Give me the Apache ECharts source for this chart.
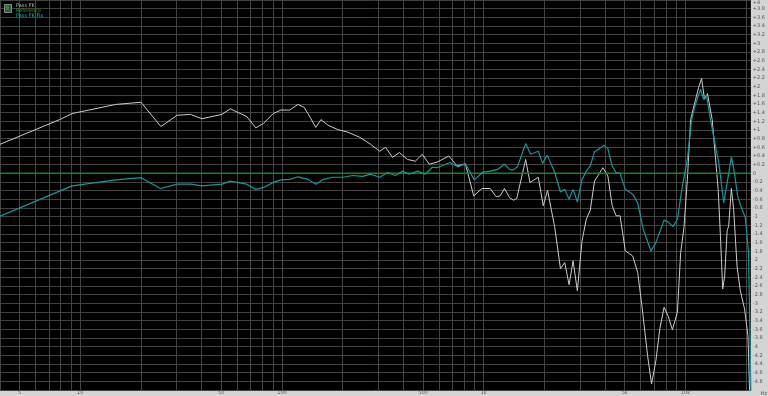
<!DOCTYPE html>
<html><head><meta charset="utf-8">
<script src="https://cdn.jsdelivr.net/npm/echarts@6/dist/echarts.min.js"></script>
<style>html,body{margin:0;padding:0;background:#d4d4d4;}#c{width:768px;height:396px;}</style>
</head><body><div id="c"></div>
<script>
const seriesNames = ['Pass FK', 'Reference', 'Pass FK Fix'];

const whiteHz = [4, 7.9, 9.12, 15.0, 20.0, 25.1, 30.2, 35.2, 40.1, 50.4, 55.4, 66.9, 74.1, 80.8, 90.5, 98.8, 109, 120, 129, 138, 147, 156, 169, 189, 212, 243, 275, 305, 326, 353, 382, 419, 458, 496, 537, 588, 672, 738, 811, 892, 980, 1077, 1152, 1206, 1268, 1342, 1404, 1458, 1614, 1695, 1864, 1973, 2072, 2250, 2401, 2521, 2650, 2773, 2912, 3071, 3224, 3374, 3542, 3897, 4124, 4330, 4531, 4741, 5035, 5478, 5797, 6087, 6492, 6792, 7133, 7463, 7836, 8200, 8620, 9122, 9471, 9831, 10220, 10610, 11230, 11620, 12020, 12430, 12860, 13570, 14530, 14910, 15300, 15650, 16090, 16380, 16890, 17340, 18020, 18710, 19640, 20410, 20950];
const whiteDb = [0.67, 1.24, 1.38, 1.59, 1.64, 1.08, 1.34, 1.36, 1.26, 1.36, 1.49, 1.31, 1.05, 1.15, 1.38, 1.46, 1.46, 1.59, 1.52, 1.29, 1.06, 1.24, 1.11, 1.01, 0.95, 0.83, 0.67, 0.51, 0.60, 0.37, 0.48, 0.32, 0.28, 0.44, 0.21, 0.26, 0.40, 0.17, 0.22, -0.52, -0.35, -0.35, -0.54, -0.52, -0.35, -0.56, -0.62, -0.58, 0.32, -0.21, -0.09, -0.75, -0.39, -1.25, -2.20, -2.06, -2.57, -2.02, -2.71, -1.56, -1.06, -0.85, -0.18, 0.13, -0.06, -0.74, -0.98, -0.98, -1.79, -1.91, -2.29, -3.06, -4.21, -4.86, -4.33, -3.59, -3.09, -3.29, -3.61, -3.20, -1.83, -1.25, -0.14, 1.24, 1.71, 1.98, 2.19, 1.71, 1.84, 1.24, -0.37, -1.45, -2.67, -2.37, -1.33, -1.21, -0.35, -0.83, -2.14, -2.71, -3.13, -3.75, -5.5];

const tealHz = [4, 7.9, 9.12, 15.0, 20.0, 25.0, 30.2, 35.2, 40.1, 50.4, 55.4, 66.9, 74.1, 80.8, 90.5, 98.8, 109, 120, 135, 147, 160, 179, 200, 224, 251, 275, 305, 334, 365, 395, 428, 469, 513, 556, 588, 679, 744, 811, 898, 991, 1077, 1171, 1268, 1342, 1404, 1469, 1614, 1708, 1864, 1957, 2064, 2250, 2401, 2521, 2650, 2773, 2912, 3071, 3224, 3374, 3542, 3750, 3941, 4124, 4330, 4531, 4741, 5035, 5478, 5797, 6177, 6740, 7133, 7836, 8200, 8680, 9122, 9656, 10220, 10730, 11100, 11490, 11880, 12290, 12720, 13310, 14090, 14630, 15480, 16200, 16890, 17480, 18140, 18920, 19800, 20550, 21190];
const tealDb = [-0.99, -0.41, -0.29, -0.15, -0.10, -0.35, -0.25, -0.25, -0.29, -0.25, -0.18, -0.25, -0.37, -0.33, -0.21, -0.15, -0.14, -0.08, -0.14, -0.25, -0.14, -0.09, -0.09, -0.05, -0.07, -0.02, -0.09, 0.02, -0.05, 0.05, -0.02, 0.05, -0.02, 0.14, 0.13, 0.25, 0.15, 0.22, -0.15, 0.03, 0.05, 0.09, 0.21, 0.09, 0.08, 0.15, 0.69, 0.44, 0.51, 0.23, 0.42, 0.02, -0.43, -0.37, -0.60, -0.37, -0.66, -0.14, 0.05, 0.17, 0.50, 0.57, 0.65, 0.57, 0.17, 0.02, 0.00, -0.37, -0.48, -0.68, -1.29, -1.79, -1.60, -1.08, -1.12, -1.23, -1.06, -0.29, 0.32, 1.24, 1.52, 1.75, 1.94, 1.71, 1.80, 1.24, 0.63, 0.25, -0.68, -0.14, 0.38, 0.02, -0.52, -0.79, -1.02, -1.83, -5.5];

const refHz = [4, 21100];
const refDb = [0, 0];

const gridHz = [4,5,6,7,8,9,10,20,30,40,50,60,70,80,90,100,200,300,400,500,600,700,800,900,1000,2000,3000,4000,5000,6000,7000,8000,9000,10000,20000];
const xTickHz = [5, 10, 50, 100, 500, 1000, 5000, 10000];
const xTickLabels = ['5', '10', '50', '100', '500', '1k', '5k', '10k'];

const zip = (a, b) => a.map((v, i) => [v, b[i]]);

const chart = echarts.init(document.getElementById('c'), null, {renderer: 'canvas'});
chart.setOption({
  animation: false,
  backgroundColor: '#d4d4d4',
  grid: {left: 0, top: 0, right: 11, bottom: 6, show: true, backgroundColor: '#000', borderWidth: 0},
  xAxis: {
    type: 'log', logBase: 10, min: 4, max: 21100,
    axisLine: {show: false}, axisTick: {show: false}, axisLabel: {show: false},
    splitLine: {show: false}
  },
  yAxis: {
    type: 'value', position: 'right', min: -5, max: 4, interval: 0.2,
    axisLine: {show: false}, axisTick: {show: false},
    axisLabel: {
      fontSize: 5, color: '#555', margin: 2, fontFamily: 'DejaVu Sans',
      showMinLabel: false, verticalAlignMaxLabel: 'top',
      formatter: v => { const r = Math.round(v * 10) / 10; return r > 0 ? '+' + r : String(r); }
    },
    splitLine: {show: true, lineStyle: {color: '#424242', width: 1}}
  },
  legend: {
    orient: 'vertical', left: 11, top: 3, itemGap: 0, itemWidth: 0, itemHeight: 0, padding: 0,
    icon: 'rect', selectedMode: false,
    textStyle: {fontSize: 5, lineHeight: 5, fontFamily: 'DejaVu Sans'},
    data: [
      {name: seriesNames[0], textStyle: {color: '#bbbbbb'}},
      {name: seriesNames[1], textStyle: {color: '#1faa1f'}},
      {name: seriesNames[2], textStyle: {color: '#19b0b0'}}
    ]
  },
  graphic: [
    {type: 'rect', left: 4, top: 4, shape: {width: 7, height: 8}, style: {fill: '#4a4a4a', stroke: '#8a8a8a', lineWidth: 1}, z: 100},
    {type: 'rect', left: 6, top: 6, shape: {width: 3, height: 4}, style: {fill: '#2c8a2c'}, z: 101},
    {type: 'text', right: 1, bottom: 0, style: {text: 'Hz', fontSize: 5, fill: '#555', fontFamily: 'DejaVu Sans'}, z: 100}
  ],
  series: [
    {
      name: seriesNames[0], type: 'line', data: zip(whiteHz, whiteDb), showSymbol: false, z: 10,
      lineStyle: {color: '#cccccc', width: 1}, itemStyle: {color: '#cccccc'},
      markLine: {
        silent: true, symbol: 'none', z: 1, animation: false,
        lineStyle: {color: '#444444', width: 1, type: 'solid'},
        label: {show: false},
        data: gridHz.map(f => {
          const i = xTickHz.indexOf(f);
          return {
            xAxis: f,
            label: i >= 0 ? {show: true, position: 'start', distance: 0, formatter: xTickLabels[i], fontSize: 5, color: '#555', fontFamily: 'DejaVu Sans'} : {show: false}
          };
        })
      }
    },
    {
      name: seriesNames[1], type: 'line', data: zip(refHz, refDb), showSymbol: false, z: 11,
      lineStyle: {color: '#158515', width: 1.5}, itemStyle: {color: '#158515'}
    },
    {
      name: seriesNames[2], type: 'line', data: zip(tealHz, tealDb), showSymbol: false, z: 12,
      lineStyle: {color: '#129898', width: 1.2}, itemStyle: {color: '#129898'}
    }
  ]
});
</script></body></html>
